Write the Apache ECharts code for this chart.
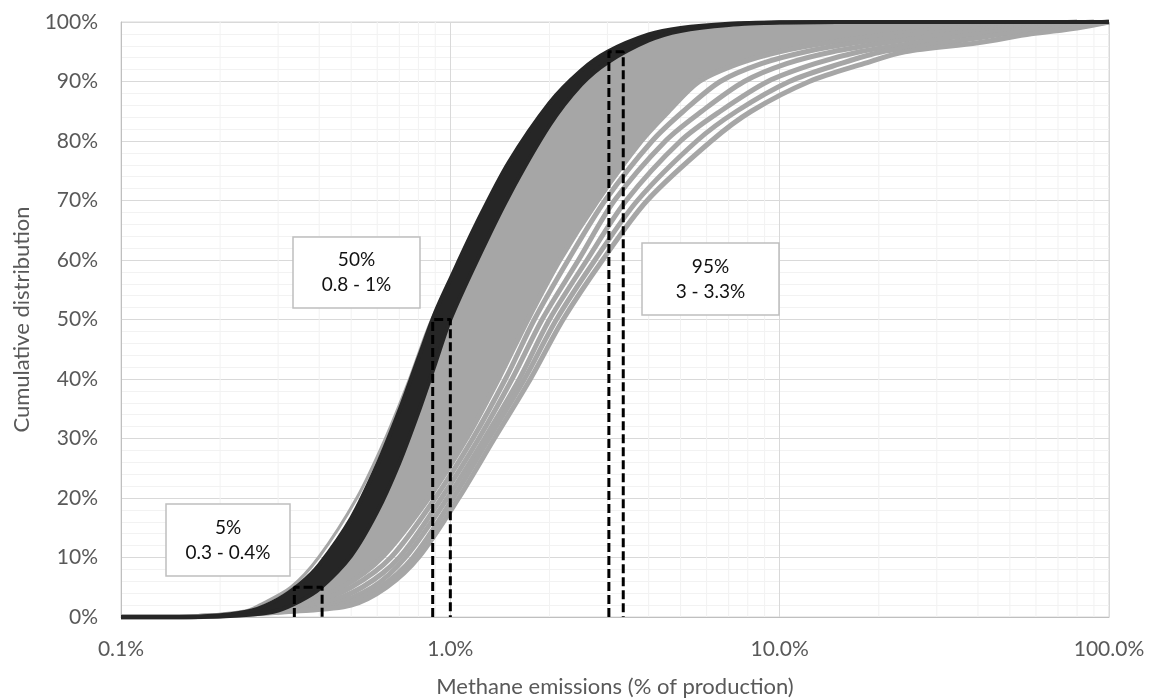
<!DOCTYPE html>
<html><head><meta charset="utf-8">
<script src="https://cdn.jsdelivr.net/npm/echarts@6/dist/echarts.min.js"></script>
<style>html,body{margin:0;padding:0;background:#fff}#c{width:1149px;height:698px}</style>
</head><body><div id="c"></div>
<script>
// ---- data ----
// emission grid (% of production) for the dark curves
const xGrid = [0.1, 0.15, 0.2, 0.25, 0.3, 0.35, 0.4, 0.5, 0.6, 0.7, 0.8, 0.9, 1, 1.2, 1.5, 2, 2.5, 3, 4, 5, 7, 10, 15, 20, 30, 50, 70, 100];
const darkLeft  = [0, 0, 0.3, 1.1, 3.0, 5.6, 8.8, 16.6, 25.6, 34.7, 43.5, 51.2, 56.8, 66.1, 76.3, 86.4, 91.9, 95.0, 97.9, 99.0, 99.7, 99.95, 100, 100, 100, 100, 100, 100];
const darkRight = [0, 0, 0.1, 0.4, 1.1, 2.7, 4.7, 10.3, 17.7, 25.9, 34.4, 42.6, 50.0, 59.7, 70.6, 82.6, 89.5, 93.2, 96.9, 98.5, 99.5, 99.9, 100, 100, 100, 100, 100, 100];
// cumulative levels (%) for the grey curves; each grey curve = emission value at each level
const levels  = [0, 1, 2, 5, 10, 20, 30, 40, 50, 60, 70, 80, 85, 90, 93, 95, 96.5, 98, 99, 100];
const greyHalo  = [0.15, 0.238, 0.263, 0.328, 0.398, 0.52, 0.635, 0.752, 0.878, 1.1, 1.35, 1.72, 2.0, 2.4, 2.75, 3.1, 3.5, 4.3, 5.5, 15];
const greyInner = [0.15, 0.29, 0.35, 0.47, 0.62, 0.86, 1.12, 1.4, 1.72, 2.15, 2.8, 3.8, 4.6, 5.7, 7.5, 10, 14, 22, 35, 80];
const grey1     = [0.15, 0.30, 0.37, 0.50, 0.66, 0.90, 1.17, 1.47, 1.80, 2.28, 2.95, 4.1, 5.1, 6.6, 8.8, 12, 17, 27, 45, 90];
const grey2     = [0.15, 0.31, 0.40, 0.54, 0.70, 0.94, 1.22, 1.54, 1.90, 2.45, 3.15, 4.5, 5.8, 7.8, 10.5, 14.5, 21, 33, 55, 100];
const grey3     = [0.15, 0.32, 0.43, 0.58, 0.73, 0.98, 1.27, 1.62, 2.00, 2.60, 3.42, 5.0, 6.6, 9.2, 12.8, 17.5, 26, 40, 62, 100];
const grey4     = [0.15, 0.33, 0.46, 0.61, 0.77, 1.02, 1.31, 1.68, 2.10, 2.75, 3.70, 5.6, 7.4, 10.7, 15.3, 20.5, 32, 48, 70, 100];
const greyRight = [0.15, 0.34, 0.50, 0.64, 0.80, 1.06, 1.36, 1.75, 2.20, 2.90, 3.96, 6.2, 8.2, 12.3, 18, 24, 40, 58, 80, 100];
// percentile brackets: [level, low, high]
const brackets = [[5, 0.336, 0.408], [50, 0.884, 1.0], [95, 3.03, 3.35]];
const boxTexts = ['5%\n0.3 - 0.4%', '50%\n0.8 - 1%', '95%\n3 - 3.3%'];
// axis ticks
const yTicks = [0, 10, 20, 30, 40, 50, 60, 70, 80, 90, 100];
const xTickLabels = ['0.1%', '1.0%', '10.0%', '100.0%'];
const xMinorTicks = [0.2,0.3,0.4,0.5,0.6,0.7,0.8,0.9, 2,3,4,5,6,7,8,9, 20,30,40,50,60,70,80,90];

// ---- build ----
const FONT = 'Lato';
const GREY = '#a6a6a6', DARK = '#262626';
const gridPts = ys => xGrid.map((x, i) => [x, ys[i]]);
const lvlPts = xs => [[0.1, 0]].concat(levels.map((p, i) => [xs[i], p]));

function lineS(data, color, width, z) {
  return {type: 'line', data, z, symbol: 'none', showSymbol: false, smooth: 0.3,
    clip: false, silent: true, lineStyle: {color, width}};
}
function bandS(upper, lower, color, z) {
  return {type: 'custom', coordinateSystem: 'cartesian2d', z, silent: true, clip: false,
    data: [[1, 50]],
    renderItem: (params, api) => {
      const p = upper.map(d => api.coord(d)).concat(lower.slice().reverse().map(d => api.coord(d)));
      return {type: 'polygon', shape: {points: p}, style: {fill: color}};
    }};
}

const series = [];
// minor vertical gridlines
series.push({type: 'custom', coordinateSystem: 'cartesian2d', z: 1, silent: true,
  data: xMinorTicks.map(v => [v, 0]),
  renderItem: (params, api) => {
    const a = api.coord([api.value(0), 0]), b = api.coord([api.value(0), 100]);
    return {type: 'line', shape: {x1: a[0], y1: a[1], x2: b[0], y2: b[1]}, style: {stroke: '#f2f2f2', lineWidth: 1}};
  }});
series.push(bandS(gridPts(darkLeft), lvlPts(greyInner), GREY, 2));
series.push(lineS(lvlPts(greyHalo), GREY, 3, 3));
[greyInner, grey1, grey2, grey3, grey4, greyRight].forEach(c => series.push(lineS(lvlPts(c), GREY, 5, 3)));
series.push(bandS(gridPts(darkLeft), gridPts(darkRight), DARK, 4));
series.push(lineS(gridPts(darkLeft), DARK, 4, 5));
series.push(lineS(gridPts(darkRight), DARK, 4, 5));
brackets.forEach(([p, lo, hi]) => series.push({type: 'line', z: 6, symbol: 'none', silent: true, clip: false,
  data: [[lo, 0], [lo, p], [hi, p], [hi, 0]],
  lineStyle: {color: '#000', width: 3, type: [9, 4]}}));

const boxes = [
  {x: 166, y: 504, w: 124, h: 72},
  {x: 293, y: 237, w: 127, h: 71},
  {x: 642, y: 243, w: 137, h: 72}
];
const graphic = [];
boxes.forEach((b, i) => {
  graphic.push({type: 'rect', z: 100, shape: {x: b.x, y: b.y, width: b.w, height: b.h},
    style: {fill: '#fff', stroke: '#bfbfbf', lineWidth: 1.5}});
  graphic.push({type: 'text', z: 101, x: b.x + b.w / 2, y: b.y + b.h / 2,
    style: {text: boxTexts[i], align: 'center', verticalAlign: 'middle', fontSize: 19, fontFamily: FONT,
      fill: '#111', lineHeight: 25}});
});

const chart = echarts.init(document.getElementById('c'), null, {renderer: 'canvas'});
chart.setOption({
  animation: false,
  backgroundColor: '#fff',
  grid: {left: 121, right: 40, top: 22, bottom: 81, outerBoundsMode: 'none', containLabel: false,
    show: true, borderColor: '#d9d9d9', borderWidth: 1},
  xAxis: {
    type: 'log', logBase: 10, min: 0.1, max: 100,
    name: 'Methane emissions (% of production)', nameLocation: 'middle', nameGap: 59,
    nameTextStyle: {fontSize: 22, fontFamily: FONT, color: '#595959'},
    axisLine: {show: true, lineStyle: {color: '#bfbfbf', width: 1}},
    axisTick: {show: false},
    axisLabel: {fontSize: 21, fontFamily: FONT, color: '#595959', margin: 22,
      formatter: v => xTickLabels[Math.round(Math.log10(v)) + 1] || ''},
    splitLine: {show: true, lineStyle: {color: '#d9d9d9', width: 1}}
  },
  yAxis: {
    type: 'value', min: yTicks[0], max: yTicks[yTicks.length - 1], interval: 10,
    name: 'Cumulative distribution', nameLocation: 'middle', nameGap: 88,
    nameTextStyle: {fontSize: 22, fontFamily: FONT, color: '#595959'},
    axisLine: {show: true, lineStyle: {color: '#bfbfbf', width: 1}},
    axisTick: {show: false},
    axisLabel: {fontSize: 21, fontFamily: FONT, color: '#595959', margin: 23, formatter: '{value}%'},
    splitLine: {show: true, lineStyle: {color: '#d9d9d9', width: 1}},
    minorTick: {show: false, splitNumber: 5},
    minorSplitLine: {show: true, lineStyle: {color: '#f2f2f2', width: 1}}
  },
  series,
  graphic
});
</script></body></html>
